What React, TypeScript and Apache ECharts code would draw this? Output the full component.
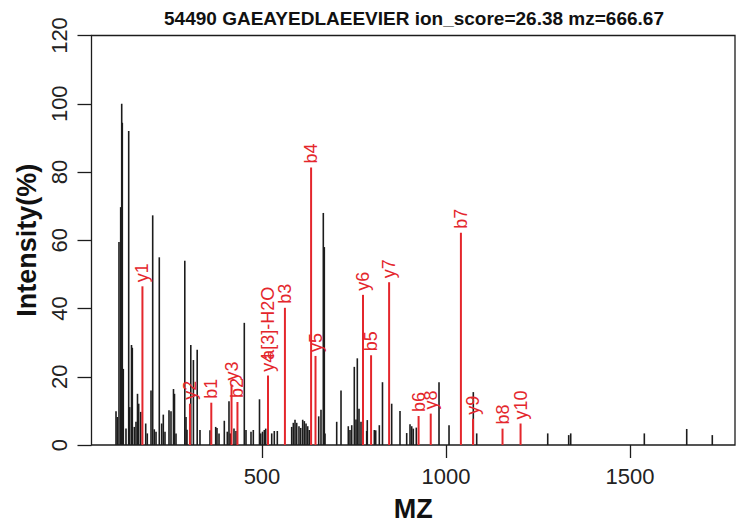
import React, { useEffect, useRef } from "react";
import * as echarts from "echarts";

const titleText = "54490 GAEAYEDLAEEVIER ion_score=26.38 mz=666.67";
const xTicks = [500, 1000, 1500];
const yTicks = [0, 20, 40, 60, 80, 100, 120];

const peakMz = [
  103.3, 106.8, 111.4, 116.0, 118.8, 120.4, 123.1, 130.4, 137.8, 140.5,
  145.4, 147.6, 153.0, 157.6, 161.7, 164.9, 170.4, 184.0, 188.3, 198.4,
  203.0, 207.3, 212.0, 220.9, 227.4, 231.8, 236.4, 247.3, 252.7, 259.5,
  262.2, 266.3, 290.2, 293.5, 296.2, 306.5, 313.6, 323.9, 331.5, 358.7,
  374.2, 377.7, 383.2, 397.6, 405.7, 410.3, 413.9, 423.9, 429.3, 451.9,
  456.5, 470.1, 476.4, 493.2, 496.5, 501.4, 506.3, 510.1, 526.4, 533.4,
  541.6, 580.7, 585.1, 589.7, 594.3, 600.5, 605.2, 610.6, 615.0, 619.6,
  624.2, 628.5, 654.1, 660.3, 666.6, 669.3, 671.2, 703.0, 714.7, 734.5,
  739.1, 743.8, 750.8, 755.4, 759.0, 763.6, 769.0, 784.5, 786.1, 805.2,
  809.0, 818.8, 827.4, 852.4, 875.0, 893.2, 902.2, 906.8, 911.1, 919.3,
  981.0, 1008.2, 1074.2, 1083.4, 1276.4, 1333.4, 1338.9, 1538.9, 1654.1, 1723.6,
];
const peakIntensity = [
  9.9, 8.2, 59.5, 69.7, 100, 94.4, 22.3, 4.8, 92.0, 11.1,
  29.3, 28.5, 5.3, 6.8, 15.0, 12.1, 9.7, 6.3, 3.4, 16.0,
  67.3, 4.6, 3.9, 55.0, 6.3, 8.9, 3.9, 10.2, 9.9, 16.4,
  15.0, 3.4, 54.0, 8.2, 4.5, 29.3, 24.9, 27.9, 4.4, 4.3,
  5.3, 5.0, 3.4, 7.1, 3.9, 12.8, 3.4, 4.8, 4.1, 35.8,
  4.4, 3.9, 4.4, 13.4, 3.4, 3.9, 4.4, 4.8, 3.4, 4.1,
  4.1, 5.3, 6.5, 7.4, 6.5, 5.5, 5.0, 7.4, 7.0, 6.3,
  5.5, 4.4, 8.4, 10.3, 68.0, 58.0, 3.4, 6.8, 16.0, 5.5,
  4.4, 5.8, 22.9, 7.5, 25.4, 10.6, 6.8, 4.1, 7.3, 4.4,
  4.3, 5.8, 18.4, 12.1, 10.0, 3.5, 6.1, 5.5, 4.8, 5.1,
  18.4, 5.8, 15.5, 3.4, 3.4, 2.9, 3.4, 3.4, 4.7, 2.9,
];

const ionLabels = [
  "y1", "y2", "b1", "y3", "b2", "y4", "a[3]-H2O", "b3", "b4", "y5",
  "y6", "b5", "y7", "b6", "y8", "b7", "y9", "b8", "y10",
];
const ionMz = [
  175.1, 304.2, 362.2, 417.2, 433.3, 516.3, 516.3, 562.3, 633.4, 645.4,
  774.4, 796.4, 845.4, 925.5, 958.5, 1040.5, 1073.5, 1153.6, 1202.6,
];
const ionIntensity = [
  46.5, 12.1, 12.4, 17.7, 12.6, 20.3, 20.3, 40.2, 81.3, 26.1,
  44.0, 26.3, 47.7, 8.5, 9.2, 62.2, 7.7, 4.8, 6.3,
];

const FONT = "'Liberation Sans', Arial, Helvetica, sans-serif";
const RED = "#e4262c";
const BLACK = "#1c1c1c";

export default function App() {
  const ref = useRef<HTMLDivElement>(null);

  useEffect(() => {
    if (!ref.current) return;
    const chart = echarts.init(ref.current, undefined, { renderer: "svg" });

    const blackData = peakMz.map((m, i) => [m, peakIntensity[i]]);
    const ionData = ionMz.map((m, i) => [m, ionIntensity[i]]);
    // stacking shift for labels sharing the same peak
    const stackIdx = ionMz.map((m, i) => {
      let c = 0;
      for (let j = 0; j < i; j++) if (Math.abs(ionMz[j] - m) < 0.5) c++;
      return c;
    });

    const option: any = {
      animation: false,
      backgroundColor: "#ffffff",
      grid: {
        left: 91.5,
        right: 1,
        top: 35.5,
        bottom: 78.7,
        show: true,
        borderColor: BLACK,
        borderWidth: 1.3,
        containLabel: false,
      },
      graphic: [
        {
          type: "text",
          x: 414,
          y: 18,
          style: {
            text: titleText,
            fill: "#111",
            font: `bold 19px ${FONT}`,
            align: "center",
            verticalAlign: "middle",
          },
        },
      ],
      xAxis: {
        type: "value",
        min: 36.7,
        max: 1785.3,
        name: "MZ",
        nameLocation: "middle",
        nameGap: 50,
        nameTextStyle: { fontFamily: FONT, fontWeight: "bold", fontSize: 27, color: "#111" },
        axisLine: { show: false },
        splitLine: { show: false },
        axisTick: {
          show: true,
          length: 13,
          lineStyle: { color: BLACK, width: 1.3 },
          customValues: xTicks,
        },
        axisLabel: {
          customValues: xTicks,
          formatter: (v: number) => String(v),
          fontFamily: FONT,
          fontSize: 22,
          color: "#222",
          margin: 20,
        },
      },
      yAxis: {
        type: "value",
        min: 0,
        max: 120,
        interval: 20,
        name: "Intensity(%)",
        nameLocation: "middle",
        nameGap: 47,
        nameTextStyle: { fontFamily: FONT, fontWeight: "bold", fontSize: 27, color: "#111" },
        axisLine: { show: false },
        splitLine: { show: false },
        axisTick: {
          show: true,
          length: 14,
          lineStyle: { color: BLACK, width: 1.3 },
          customValues: yTicks,
        },
        axisLabel: {
          customValues: yTicks,
          formatter: (v: number) => String(v),
          rotate: 90,
          fontFamily: FONT,
          fontSize: 22,
          color: "#222",
          margin: 21,
        },
      },
      series: [
        {
          type: "custom",
          silent: true,
          data: blackData,
          encode: { x: 0, y: 1 },
          renderItem: (params: any, api: any) => {
            const m = api.value(0);
            const v = api.value(1);
            const p0 = api.coord([m, 0]);
            const p1 = api.coord([m, v]);
            return {
              type: "line",
              shape: { x1: p0[0], y1: p0[1], x2: p1[0], y2: p1[1] },
              style: { stroke: BLACK, lineWidth: 1.6 },
            };
          },
        },
        {
          type: "custom",
          silent: true,
          data: ionData,
          encode: { x: 0, y: 1 },
          z: 3,
          renderItem: (params: any, api: any) => {
            const i = params.dataIndex;
            const m = api.value(0);
            const v = api.value(1);
            const p0 = api.coord([m, 0]);
            const p1 = api.coord([m, v]);
            return {
              type: "group",
              children: [
                {
                  type: "line",
                  shape: { x1: p0[0], y1: p0[1], x2: p1[0], y2: p1[1] },
                  style: { stroke: RED, lineWidth: 2 },
                },
                {
                  type: "text",
                  x: p1[0],
                  y: p1[1] - 4 - stackIdx[i] * 12,
                  rotation: Math.PI / 2,
                  style: {
                    text: ionLabels[i],
                    fill: RED,
                    fontSize: 18,
                    fontFamily: FONT,
                    align: "left",
                    verticalAlign: "middle",
                  },
                },
              ],
            };
          },
        },
      ],
    };

    chart.setOption(option);
    return () => chart.dispose();
  }, []);

  return <div ref={ref} style={{ width: 736, height: 527, position: "absolute", left: 0, top: 0 }} />;
}
